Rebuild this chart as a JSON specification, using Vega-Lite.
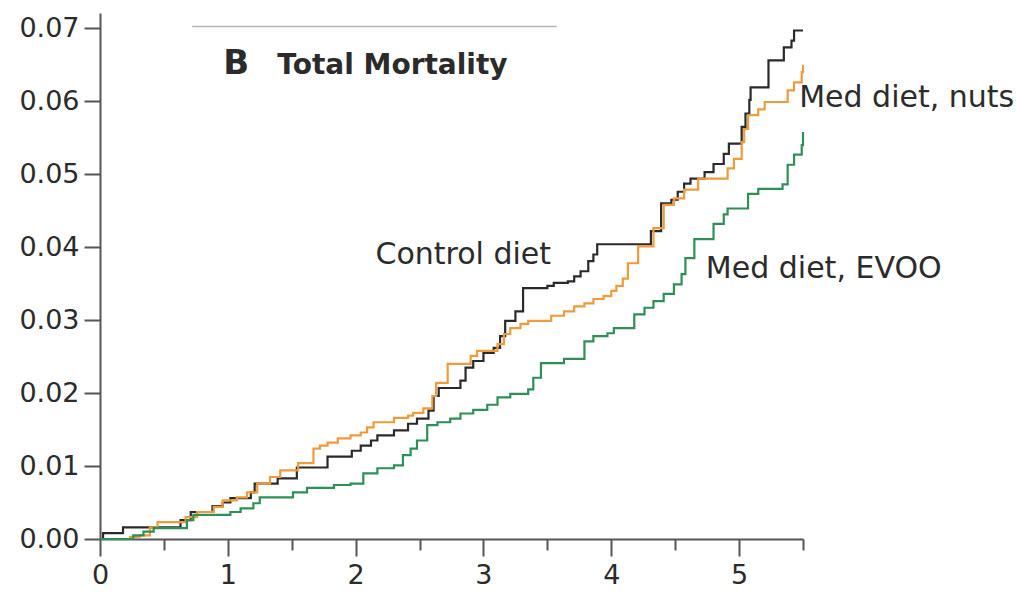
{
  "$schema": "https://vega.github.io/schema/vega-lite/v6.json",
  "autosize": "none",
  "width": 703,
  "height": 526,
  "padding": {"left": 100, "top": 13, "right": 215, "bottom": 53},
  "background": "white",
  "config": {
    "view": {"stroke": null},
    "font": "DejaVu Sans"
  },
  "datasets": {
    "curves": [
      {"group": "Control diet", "t": 0, "risk": 0},
      {"group": "Control diet", "t": 0.024, "risk": 0.0008},
      {"group": "Control diet", "t": 0.18, "risk": 0.0016},
      {"group": "Control diet", "t": 0.63, "risk": 0.0026},
      {"group": "Control diet", "t": 0.71, "risk": 0.0037},
      {"group": "Control diet", "t": 0.88, "risk": 0.0045},
      {"group": "Control diet", "t": 0.96, "risk": 0.005},
      {"group": "Control diet", "t": 1.02, "risk": 0.0056},
      {"group": "Control diet", "t": 1.18, "risk": 0.0064},
      {"group": "Control diet", "t": 1.21, "risk": 0.0076},
      {"group": "Control diet", "t": 1.39, "risk": 0.0083},
      {"group": "Control diet", "t": 1.54, "risk": 0.0098},
      {"group": "Control diet", "t": 1.78, "risk": 0.0113},
      {"group": "Control diet", "t": 1.97, "risk": 0.0121},
      {"group": "Control diet", "t": 2.04, "risk": 0.0128},
      {"group": "Control diet", "t": 2.12, "risk": 0.0135},
      {"group": "Control diet", "t": 2.17, "risk": 0.0142},
      {"group": "Control diet", "t": 2.3, "risk": 0.0149},
      {"group": "Control diet", "t": 2.41, "risk": 0.0158},
      {"group": "Control diet", "t": 2.48, "risk": 0.0165},
      {"group": "Control diet", "t": 2.57, "risk": 0.0176},
      {"group": "Control diet", "t": 2.61, "risk": 0.0196},
      {"group": "Control diet", "t": 2.65, "risk": 0.0207},
      {"group": "Control diet", "t": 2.82, "risk": 0.0217},
      {"group": "Control diet", "t": 2.86, "risk": 0.0235},
      {"group": "Control diet", "t": 2.92, "risk": 0.0244},
      {"group": "Control diet", "t": 3.0, "risk": 0.0255},
      {"group": "Control diet", "t": 3.08, "risk": 0.0262},
      {"group": "Control diet", "t": 3.13, "risk": 0.0278},
      {"group": "Control diet", "t": 3.17, "risk": 0.0299},
      {"group": "Control diet", "t": 3.25, "risk": 0.0312},
      {"group": "Control diet", "t": 3.31, "risk": 0.0344},
      {"group": "Control diet", "t": 3.5, "risk": 0.0347},
      {"group": "Control diet", "t": 3.55, "risk": 0.0351},
      {"group": "Control diet", "t": 3.66, "risk": 0.0353},
      {"group": "Control diet", "t": 3.71, "risk": 0.036},
      {"group": "Control diet", "t": 3.76, "risk": 0.0367},
      {"group": "Control diet", "t": 3.82, "risk": 0.0381},
      {"group": "Control diet", "t": 3.86, "risk": 0.039},
      {"group": "Control diet", "t": 3.89, "risk": 0.0404},
      {"group": "Control diet", "t": 4.31, "risk": 0.0422},
      {"group": "Control diet", "t": 4.39, "risk": 0.046},
      {"group": "Control diet", "t": 4.47, "risk": 0.0465},
      {"group": "Control diet", "t": 4.52, "risk": 0.0476},
      {"group": "Control diet", "t": 4.57, "risk": 0.0487},
      {"group": "Control diet", "t": 4.62, "risk": 0.0494},
      {"group": "Control diet", "t": 4.73, "risk": 0.0503},
      {"group": "Control diet", "t": 4.8, "risk": 0.0514},
      {"group": "Control diet", "t": 4.88, "risk": 0.0528},
      {"group": "Control diet", "t": 4.92, "risk": 0.0542},
      {"group": "Control diet", "t": 5.02, "risk": 0.0565},
      {"group": "Control diet", "t": 5.05, "risk": 0.0583},
      {"group": "Control diet", "t": 5.08, "risk": 0.0602},
      {"group": "Control diet", "t": 5.09, "risk": 0.0619},
      {"group": "Control diet", "t": 5.23, "risk": 0.0656},
      {"group": "Control diet", "t": 5.35, "risk": 0.0674},
      {"group": "Control diet", "t": 5.41, "risk": 0.0683},
      {"group": "Control diet", "t": 5.43, "risk": 0.0697},
      {"group": "Control diet", "t": 5.5, "risk": 0.0697},

      {"group": "Med diet, nuts", "t": 0, "risk": 0},
      {"group": "Med diet, nuts", "t": 0.235, "risk": 0.0003},
      {"group": "Med diet, nuts", "t": 0.31, "risk": 0.0005},
      {"group": "Med diet, nuts", "t": 0.39, "risk": 0.0016},
      {"group": "Med diet, nuts", "t": 0.45, "risk": 0.0023},
      {"group": "Med diet, nuts", "t": 0.67, "risk": 0.003},
      {"group": "Med diet, nuts", "t": 0.76, "risk": 0.0037},
      {"group": "Med diet, nuts", "t": 0.89, "risk": 0.0044},
      {"group": "Med diet, nuts", "t": 0.96, "risk": 0.0053},
      {"group": "Med diet, nuts", "t": 1.07, "risk": 0.0057},
      {"group": "Med diet, nuts", "t": 1.15, "risk": 0.0064},
      {"group": "Med diet, nuts", "t": 1.23, "risk": 0.0076},
      {"group": "Med diet, nuts", "t": 1.33, "risk": 0.0085},
      {"group": "Med diet, nuts", "t": 1.41, "risk": 0.0094},
      {"group": "Med diet, nuts", "t": 1.55, "risk": 0.0104},
      {"group": "Med diet, nuts", "t": 1.67, "risk": 0.0124},
      {"group": "Med diet, nuts", "t": 1.72, "risk": 0.0128},
      {"group": "Med diet, nuts", "t": 1.78, "risk": 0.0132},
      {"group": "Med diet, nuts", "t": 1.86, "risk": 0.0138},
      {"group": "Med diet, nuts", "t": 1.96, "risk": 0.0142},
      {"group": "Med diet, nuts", "t": 2.04, "risk": 0.0146},
      {"group": "Med diet, nuts", "t": 2.09, "risk": 0.0153},
      {"group": "Med diet, nuts", "t": 2.14, "risk": 0.016},
      {"group": "Med diet, nuts", "t": 2.3, "risk": 0.0166},
      {"group": "Med diet, nuts", "t": 2.41, "risk": 0.0169},
      {"group": "Med diet, nuts", "t": 2.45, "risk": 0.0173},
      {"group": "Med diet, nuts", "t": 2.53, "risk": 0.0179},
      {"group": "Med diet, nuts", "t": 2.6, "risk": 0.0196},
      {"group": "Med diet, nuts", "t": 2.63, "risk": 0.0214},
      {"group": "Med diet, nuts", "t": 2.72, "risk": 0.024},
      {"group": "Med diet, nuts", "t": 2.9, "risk": 0.0251},
      {"group": "Med diet, nuts", "t": 2.95, "risk": 0.0258},
      {"group": "Med diet, nuts", "t": 3.11, "risk": 0.0267},
      {"group": "Med diet, nuts", "t": 3.16, "risk": 0.0281},
      {"group": "Med diet, nuts", "t": 3.21, "risk": 0.0289},
      {"group": "Med diet, nuts", "t": 3.29, "risk": 0.0295},
      {"group": "Med diet, nuts", "t": 3.35, "risk": 0.0299},
      {"group": "Med diet, nuts", "t": 3.53, "risk": 0.0306},
      {"group": "Med diet, nuts", "t": 3.63, "risk": 0.0312},
      {"group": "Med diet, nuts", "t": 3.71, "risk": 0.0319},
      {"group": "Med diet, nuts", "t": 3.79, "risk": 0.0323},
      {"group": "Med diet, nuts", "t": 3.86, "risk": 0.0329},
      {"group": "Med diet, nuts", "t": 3.94, "risk": 0.0333},
      {"group": "Med diet, nuts", "t": 4.0, "risk": 0.034},
      {"group": "Med diet, nuts", "t": 4.04, "risk": 0.0347},
      {"group": "Med diet, nuts", "t": 4.09, "risk": 0.0357},
      {"group": "Med diet, nuts", "t": 4.13, "risk": 0.0378},
      {"group": "Med diet, nuts", "t": 4.21, "risk": 0.0401},
      {"group": "Med diet, nuts", "t": 4.33, "risk": 0.0426},
      {"group": "Med diet, nuts", "t": 4.41, "risk": 0.0458},
      {"group": "Med diet, nuts", "t": 4.49, "risk": 0.0467},
      {"group": "Med diet, nuts", "t": 4.57, "risk": 0.0479},
      {"group": "Med diet, nuts", "t": 4.68, "risk": 0.0494},
      {"group": "Med diet, nuts", "t": 4.91, "risk": 0.0508},
      {"group": "Med diet, nuts", "t": 4.96, "risk": 0.0521},
      {"group": "Med diet, nuts", "t": 5.02, "risk": 0.0544},
      {"group": "Med diet, nuts", "t": 5.04, "risk": 0.0562},
      {"group": "Med diet, nuts", "t": 5.07, "risk": 0.0581},
      {"group": "Med diet, nuts", "t": 5.15, "risk": 0.0589},
      {"group": "Med diet, nuts", "t": 5.2, "risk": 0.0599},
      {"group": "Med diet, nuts", "t": 5.38, "risk": 0.0615},
      {"group": "Med diet, nuts", "t": 5.43, "risk": 0.0626},
      {"group": "Med diet, nuts", "t": 5.49, "risk": 0.064},
      {"group": "Med diet, nuts", "t": 5.5, "risk": 0.065},

      {"group": "Med diet, EVOO", "t": 0, "risk": 0},
      {"group": "Med diet, EVOO", "t": 0.26, "risk": 0.0005},
      {"group": "Med diet, EVOO", "t": 0.34, "risk": 0.001},
      {"group": "Med diet, EVOO", "t": 0.42, "risk": 0.0015},
      {"group": "Med diet, EVOO", "t": 0.68, "risk": 0.0026},
      {"group": "Med diet, EVOO", "t": 0.73, "risk": 0.0033},
      {"group": "Med diet, EVOO", "t": 1.02, "risk": 0.0037},
      {"group": "Med diet, EVOO", "t": 1.1, "risk": 0.0042},
      {"group": "Med diet, EVOO", "t": 1.2, "risk": 0.0049},
      {"group": "Med diet, EVOO", "t": 1.25, "risk": 0.0057},
      {"group": "Med diet, EVOO", "t": 1.51, "risk": 0.0064},
      {"group": "Med diet, EVOO", "t": 1.62, "risk": 0.007},
      {"group": "Med diet, EVOO", "t": 1.83, "risk": 0.0074},
      {"group": "Med diet, EVOO", "t": 1.96, "risk": 0.0076},
      {"group": "Med diet, EVOO", "t": 2.06, "risk": 0.009},
      {"group": "Med diet, EVOO", "t": 2.17, "risk": 0.0097},
      {"group": "Med diet, EVOO", "t": 2.3, "risk": 0.0101},
      {"group": "Med diet, EVOO", "t": 2.37, "risk": 0.0115},
      {"group": "Med diet, EVOO", "t": 2.43, "risk": 0.0124},
      {"group": "Med diet, EVOO", "t": 2.48, "risk": 0.0135},
      {"group": "Med diet, EVOO", "t": 2.56, "risk": 0.0156},
      {"group": "Med diet, EVOO", "t": 2.64, "risk": 0.016},
      {"group": "Med diet, EVOO", "t": 2.74, "risk": 0.0165},
      {"group": "Med diet, EVOO", "t": 2.82, "risk": 0.0172},
      {"group": "Med diet, EVOO", "t": 2.92, "risk": 0.0177},
      {"group": "Med diet, EVOO", "t": 3.03, "risk": 0.0184},
      {"group": "Med diet, EVOO", "t": 3.11, "risk": 0.0194},
      {"group": "Med diet, EVOO", "t": 3.21, "risk": 0.0199},
      {"group": "Med diet, EVOO", "t": 3.35, "risk": 0.0205},
      {"group": "Med diet, EVOO", "t": 3.39, "risk": 0.0221},
      {"group": "Med diet, EVOO", "t": 3.45, "risk": 0.0241},
      {"group": "Med diet, EVOO", "t": 3.63, "risk": 0.0247},
      {"group": "Med diet, EVOO", "t": 3.79, "risk": 0.0271},
      {"group": "Med diet, EVOO", "t": 3.86, "risk": 0.0278},
      {"group": "Med diet, EVOO", "t": 3.97, "risk": 0.0282},
      {"group": "Med diet, EVOO", "t": 4.02, "risk": 0.0289},
      {"group": "Med diet, EVOO", "t": 4.18, "risk": 0.0308},
      {"group": "Med diet, EVOO", "t": 4.26, "risk": 0.0317},
      {"group": "Med diet, EVOO", "t": 4.33, "risk": 0.0326},
      {"group": "Med diet, EVOO", "t": 4.41, "risk": 0.0336},
      {"group": "Med diet, EVOO", "t": 4.49, "risk": 0.0349},
      {"group": "Med diet, EVOO", "t": 4.55, "risk": 0.0363},
      {"group": "Med diet, EVOO", "t": 4.58, "risk": 0.0385},
      {"group": "Med diet, EVOO", "t": 4.65, "risk": 0.0411},
      {"group": "Med diet, EVOO", "t": 4.8, "risk": 0.0432},
      {"group": "Med diet, EVOO", "t": 4.88, "risk": 0.0445},
      {"group": "Med diet, EVOO", "t": 4.91, "risk": 0.0453},
      {"group": "Med diet, EVOO", "t": 5.07, "risk": 0.0473},
      {"group": "Med diet, EVOO", "t": 5.15, "risk": 0.048},
      {"group": "Med diet, EVOO", "t": 5.34, "risk": 0.0486},
      {"group": "Med diet, EVOO", "t": 5.38, "risk": 0.0513},
      {"group": "Med diet, EVOO", "t": 5.43, "risk": 0.0527},
      {"group": "Med diet, EVOO", "t": 5.49, "risk": 0.054},
      {"group": "Med diet, EVOO", "t": 5.5, "risk": 0.0558}
    ],
    "curveLabels": [
      {"label": "Control diet", "t": 2.155, "risk": 0.03765},
      {"label": "Med diet, nuts", "t": 5.47, "risk": 0.0592},
      {"label": "Med diet, EVOO", "t": 4.74, "risk": 0.03574}
    ],
    "panelTitle": [
      {"text": "B", "t": 0.964, "risk": 0.0637, "size": "big"},
      {"text": "Total Mortality", "t": 1.387, "risk": 0.0637, "size": "normal"}
    ],
    "headerRule": [
      {"t": 0.721, "t2": 3.574, "risk": 0.07026}
    ]
  },
  "resolve": {"axis": {"x": "independent"}},
  "layer": [
    {
      "data": {"name": "curves"},
      "mark": {"type": "line", "interpolate": "step-after", "strokeWidth": 2.2},
      "encoding": {
        "x": {
          "field": "t", "type": "quantitative",
          "scale": {"domain": [0, 5.5], "nice": false, "zero": false},
          "axis": {
            "orient": "bottom",
            "values": [0, 1, 2, 3, 4, 5],
            "format": "d",
            "grid": false, "title": null,
            "labelFlush": false,
            "domainColor": "#555555", "domainWidth": 2,
            "tickColor": "#555555", "tickWidth": 2, "tickSize": 17,
            "labelFont": "DejaVu Sans", "labelFontSize": 27, "labelColor": "#2b2b2b",
            "labelPadding": 6
          }
        },
        "y": {
          "field": "risk", "type": "quantitative",
          "scale": {"domain": [0, 0.0721], "nice": false, "zero": true},
          "axis": {
            "values": [0, 0.01, 0.02, 0.03, 0.04, 0.05, 0.06, 0.07],
            "format": ".2f",
            "grid": false, "title": null,
            "labelFlush": false,
            "domainColor": "#555555", "domainWidth": 2,
            "tickColor": "#555555", "tickWidth": 2, "tickSize": 16,
            "labelFont": "DejaVu Sans", "labelFontSize": 27, "labelColor": "#2b2b2b",
            "labelPadding": 5
          }
        },
        "color": {
          "field": "group", "type": "nominal",
          "scale": {
            "domain": ["Control diet", "Med diet, nuts", "Med diet, EVOO"],
            "range": ["#2a2a2a", "#ee9a3d", "#2e8f57"]
          },
          "legend": null
        }
      }
    },
    {
      "data": {"name": "headerRule"},
      "mark": {"type": "rule", "color": "#b4b4b4", "strokeWidth": 1.5},
      "encoding": {
        "x": {
          "field": "t", "type": "quantitative",
          "axis": {
            "orient": "bottom",
            "values": [0.5, 1.5, 2.5, 3.5, 4.5, 5.5],
            "labels": false, "domain": false, "grid": false, "title": null,
            "tickSize": 11, "tickWidth": 2, "tickColor": "#555555"
          }
        },
        "x2": {"field": "t2"},
        "y": {"field": "risk", "type": "quantitative"}
      }
    },
    {
      "data": {"name": "curveLabels"},
      "mark": {"type": "text", "align": "left", "baseline": "alphabetic", "font": "DejaVu Sans", "fontSize": 30, "color": "#2b2b2b"},
      "encoding": {
        "x": {"field": "t", "type": "quantitative", "axis": null},
        "y": {"field": "risk", "type": "quantitative"},
        "text": {"field": "label"}
      }
    },
    {
      "data": {"name": "panelTitle"},
      "mark": {"type": "text", "align": "left", "baseline": "alphabetic", "font": "DejaVu Sans", "fontWeight": "bold", "color": "#2b2b2b"},
      "encoding": {
        "x": {"field": "t", "type": "quantitative", "axis": null},
        "y": {"field": "risk", "type": "quantitative"},
        "text": {"field": "text"},
        "size": {
          "field": "size", "type": "nominal",
          "scale": {"domain": ["big", "normal"], "range": [34, 28]},
          "legend": null
        }
      }
    }
  ]
}
